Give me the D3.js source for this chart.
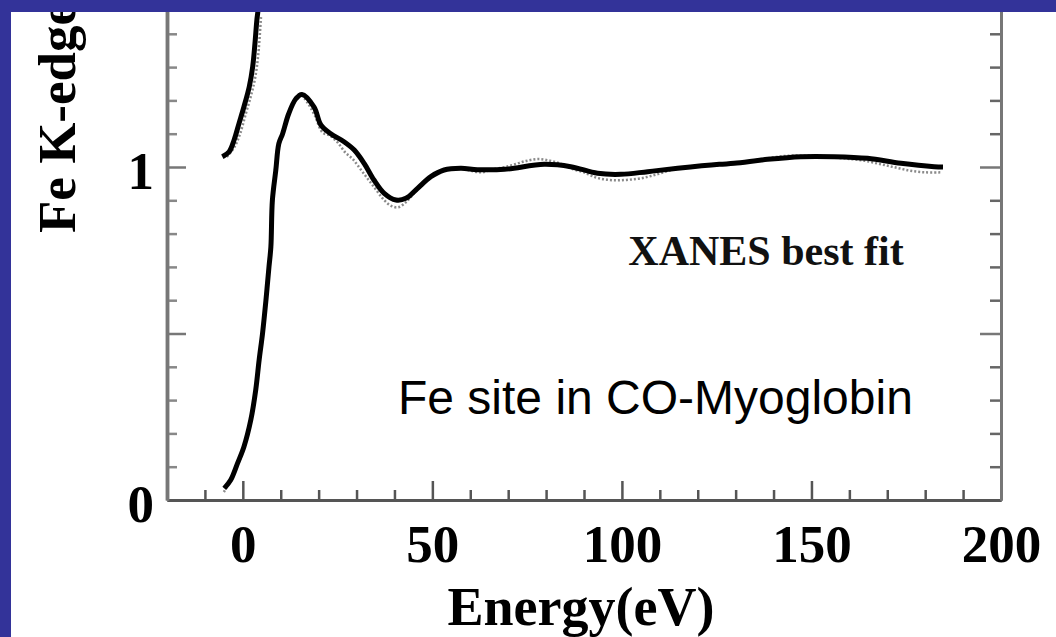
<!DOCTYPE html>
<html>
<head>
<meta charset="utf-8">
<script src="https://cdn.jsdelivr.net/npm/d3@7"></script>
<style>
  html, body { margin: 0; padding: 0; background: #333399; }
  svg { display: block; }
</style>
</head>
<body>
<svg id="chart" width="1056" height="637"></svg>
<script>
// Fe K-edge XANES of CO-myoglobin: fitted spectrum (solid) and measured points (dotted)
const fitEnergy = [-4.9, -3.2, -1.4, 0.3, 2.1, 3.4, 4.3, 5.2, 6.1, 6.9, 7.4, 7.8, 8.7, 9.5, 10.5, 12.1, 14.0, 15.6, 18.8, 20.6, 23.2, 26.7, 29.4, 32.0, 34.6, 37.3, 40.4, 43.0, 46.1, 49.6, 53.1, 57.5, 61.9, 69.0, 79.5, 86.5, 93.6, 99.7, 106.8, 114.7, 125.7, 129.6, 138.4, 147.2, 156.0, 164.8, 173.6, 182.4, 184.7];
const fitValue  = [0.035, 0.06, 0.11, 0.16, 0.24, 0.33, 0.42, 0.50, 0.60, 0.70, 0.76, 0.90, 0.99, 1.07, 1.10, 1.16, 1.205, 1.218, 1.18, 1.126, 1.10, 1.076, 1.051, 1.011, 0.961, 0.921, 0.901, 0.906, 0.936, 0.971, 0.991, 0.996, 0.992, 0.993, 1.008, 1.001, 0.981, 0.978, 0.986, 0.996, 1.008, 1.011, 1.023, 1.031, 1.031, 1.026, 1.011, 1.001, 1.0];

const expEnergy = [-5, -3, -1, 1, 3, 5, 7, 9, 11, 13, 15, 17, 19, 21, 23, 25, 27, 29, 31, 33, 35, 37, 39, 41, 43, 45, 48, 51, 54, 57, 60, 63, 66, 69, 72, 75, 78, 81, 84, 87, 90, 93, 96, 99, 102, 105, 108, 111, 114, 117, 120, 124, 128, 132, 136, 140, 144, 148, 152, 156, 160, 164, 168, 172, 176, 180, 184];
const expValue  = [0.03, 0.07, 0.12, 0.19, 0.31, 0.49, 0.72, 1.04, 1.12, 1.19, 1.225, 1.20, 1.16, 1.11, 1.10, 1.08, 1.05, 1.03, 1.0, 0.97, 0.94, 0.91, 0.89, 0.885, 0.90, 0.925, 0.96, 0.99, 1.0, 1.005, 0.995, 0.99, 1.0, 1.005, 1.015, 1.025, 1.03, 1.025, 1.015, 1.0, 0.99, 0.975, 0.968, 0.966, 0.968, 0.972, 0.98, 0.99, 1.0, 1.005, 1.01, 1.01, 1.015, 1.02, 1.028, 1.035, 1.04, 1.04, 1.04, 1.035, 1.03, 1.025, 1.015, 1.005, 0.995, 0.99, 0.99];

// edge region of the reference spectrum, shifted up by one unit
const edgeEnergy = [-5.4, -3.6, -2.3, -1.0, 0.3, 1.7, 2.6, 3.2, 3.7, 4.0, 4.5, 5.0];
const edgeValue  = [1.031, 1.046, 1.081, 1.131, 1.181, 1.241, 1.301, 1.371, 1.441, 1.47, 1.56, 1.66];
const edgeExpEnergy = [-5, -3, -1.5, 0, 1.5, 2.5, 3.3, 4.0];
const edgeExpValue  = [1.03, 1.06, 1.10, 1.16, 1.22, 1.27, 1.34, 1.45];

const xTicks = [0, 50, 100, 150, 200];
const yTicks = [0, 1];
const xLabel = "Energy(eV)";
const yLabel = "Fe K-edge absorption";
const fitNote = "XANES best fit";
const siteNote = "Fe site in CO-Myoglobin";

const svg = d3.select("#chart");
const W = 1056, H = 637;

// white panel inside the blue frame
svg.append("rect").attr("x", 0).attr("y", 0).attr("width", W).attr("height", H).attr("fill", "#333399");
svg.append("defs").append("clipPath").attr("id", "panel")
  .append("rect").attr("x", 11).attr("y", 12).attr("width", W - 11).attr("height", H - 12);
const g = svg.append("g").attr("clip-path", "url(#panel)");
g.append("rect").attr("x", 11).attr("y", 12).attr("width", W - 11).attr("height", H - 12).attr("fill", "#ffffff");

const x = d3.scaleLinear().domain([-20, 200]).range([167, 1001]);
const y = d3.scaleLinear().domain([0, 1.5]).range([500, 0.5]);

const serif = "'Liberation Serif', 'Times New Roman', serif";
const minorX = d3.range(-10, 200, 10).filter(v => v % 50 !== 0);
const majorX = [0, 50, 100, 150];
const minorY = d3.range(1, 15).map(i => i / 10).filter(v => Math.abs(v * 2 - Math.round(v * 2)) > 1e-6);
const majorY = [0.5, 1.0];

function styleAxis(sel, color, width) {
  sel.select(".domain").attr("stroke", color).attr("stroke-width", width);
  sel.selectAll(".tick line").attr("stroke", color).attr("stroke-width", 2.5);
  sel.selectAll("text").remove();
}

// bottom axis, ticks pointing into the plot
g.append("g").attr("transform", `translate(0,${y(0)})`)
  .call(d3.axisTop(x).tickValues(minorX).tickSize(10).tickSizeOuter(0))
  .call(s => styleAxis(s, "#555", 3));
g.append("g").attr("transform", `translate(0,${y(0)})`)
  .call(d3.axisTop(x).tickValues(majorX).tickSize(19).tickSizeOuter(0))
  .call(s => styleAxis(s, "#555", 3));

// left axis
g.append("g").attr("transform", `translate(${x(-20)},0)`)
  .call(d3.axisRight(y).tickValues(minorY).tickSize(10).tickSizeOuter(0))
  .call(s => styleAxis(s, "#888", 3.5));
g.append("g").attr("transform", `translate(${x(-20)},0)`)
  .call(d3.axisRight(y).tickValues(majorY).tickSize(19).tickSizeOuter(0))
  .call(s => styleAxis(s, "#777", 3.5));

// right axis
g.append("g").attr("transform", `translate(${x(200)},0)`)
  .call(d3.axisLeft(y).tickValues(minorY).tickSize(11).tickSizeOuter(0))
  .call(s => styleAxis(s, "#666", 3));
g.append("g").attr("transform", `translate(${x(200)},0)`)
  .call(d3.axisLeft(y).tickValues(majorY).tickSize(21).tickSizeOuter(0))
  .call(s => styleAxis(s, "#777", 3));

// tick labels
const xl = g.append("g").attr("transform", `translate(0,${y(0)})`)
  .call(d3.axisBottom(x).tickValues(xTicks).tickSize(0).tickPadding(24).tickFormat(d3.format("d")));
xl.select(".domain").remove();
xl.selectAll("text").attr("font-family", serif).attr("font-weight", "bold").attr("font-size", 53).attr("fill", "#000");

const yl = g.append("g").attr("transform", `translate(${x(-20)},0)`)
  .call(d3.axisLeft(y).tickValues(yTicks).tickSize(0).tickPadding(13).tickFormat(d3.format("d")));
yl.select(".domain").remove();
yl.selectAll("text").attr("font-family", serif).attr("font-weight", "bold").attr("font-size", 53).attr("fill", "#000").attr("dy", "0.4em");

// axis titles
g.append("text").attr("x", 581).attr("y", 625).attr("text-anchor", "middle")
  .attr("font-family", serif).attr("font-weight", "bold").attr("font-size", 54).attr("fill", "#000")
  .text(xLabel);
g.append("text").attr("transform", "translate(75,233) rotate(-90)").attr("text-anchor", "start")
  .attr("font-family", serif).attr("font-weight", "bold").attr("font-size", 53).attr("fill", "#000")
  .text(yLabel);

// curves
const line = d3.line().x(d => x(d[0])).y(d => y(d[1])).curve(d3.curveCatmullRom.alpha(0.5));
const zip = (a, b) => a.map((v, i) => [v, b[i]]);

const plot = g.append("g");
plot.append("path").datum(zip(expEnergy, expValue)).attr("d", line)
  .attr("fill", "none").attr("stroke", "#8a8a8a").attr("stroke-width", 2.5).attr("stroke-dasharray", "2,2")
  .attr("transform", "translate(0,2)");
plot.append("path").datum(zip(edgeExpEnergy, edgeExpValue)).attr("d", line)
  .attr("fill", "none").attr("stroke", "#8a8a8a").attr("stroke-width", 2.5).attr("stroke-dasharray", "2,2")
  .attr("transform", "translate(3,0)");
plot.append("path").datum(zip(fitEnergy, fitValue)).attr("d", line)
  .attr("fill", "none").attr("stroke", "#000").attr("stroke-width", 5).attr("stroke-linejoin", "round");
plot.append("path").datum(zip(edgeEnergy, edgeValue)).attr("d", line)
  .attr("fill", "none").attr("stroke", "#000").attr("stroke-width", 5).attr("stroke-linejoin", "round");

// annotations
g.append("text").attr("x", 766).attr("y", 265).attr("text-anchor", "middle")
  .attr("font-family", serif).attr("font-weight", "bold").attr("font-size", 42).attr("fill", "#111")
  .text(fitNote);
g.append("text").attr("x", 398).attr("y", 414).attr("text-anchor", "start")
  .attr("font-family", "'Liberation Sans', Arial, sans-serif").attr("font-size", 48).attr("fill", "#000")
  .text(siteNote);
</script>
</body>
</html>
